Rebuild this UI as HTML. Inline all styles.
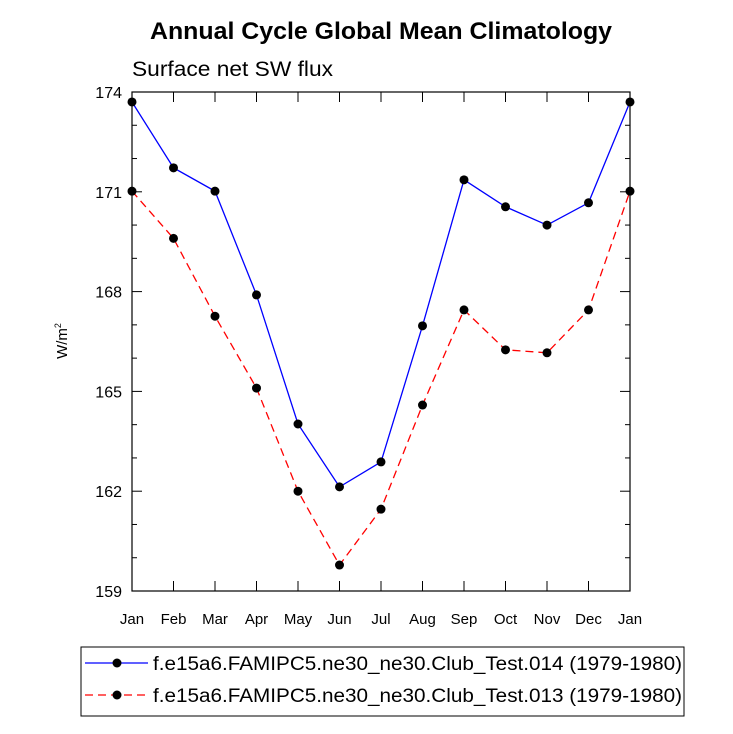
<!DOCTYPE html>
<html><head><meta charset="utf-8"><style>body{margin:0;background:#fff}svg{display:block;font-family:"Liberation Sans",sans-serif}</style></head>
<body>
<svg id="c" width="733" height="734">
<text x="381" y="39" text-anchor="middle" font-size="24" font-weight="bold" textLength="462" lengthAdjust="spacingAndGlyphs">Annual Cycle Global Mean Climatology</text>
<text x="132" y="76" font-size="21" textLength="201" lengthAdjust="spacingAndGlyphs">Surface net SW flux</text>
<text transform="translate(67,341) rotate(-90)" text-anchor="middle" font-size="15">W/m<tspan dy="-6" font-size="9">2</tspan></text>
<g id="axes"></g>
<g id="series"></g>
<g>
<rect x="81" y="647" width="603" height="69" fill="none" stroke="#000" stroke-width="1"/>
<line x1="85" y1="663" x2="148" y2="663" stroke="#00f" stroke-width="1.3"/>
<circle cx="117" cy="663" r="4.5" fill="#000"/>
<text x="153" y="670" font-size="19" textLength="529" lengthAdjust="spacingAndGlyphs">f.e15a6.FAMIPC5.ne30_ne30.Club_Test.014 (1979-1980)</text>
<line x1="85" y1="695" x2="148" y2="695" stroke="#f00" stroke-width="1.3" stroke-dasharray="8,5"/>
<circle cx="117" cy="695" r="4.5" fill="#000"/>
<text x="153" y="702" font-size="19" textLength="529" lengthAdjust="spacingAndGlyphs">f.e15a6.FAMIPC5.ne30_ne30.Club_Test.013 (1979-1980)</text>
</g>
</svg>
<script>
const months=["Jan","Feb","Mar","Apr","May","Jun","Jul","Aug","Sep","Oct","Nov","Dec","Jan"];
const series014=[173.7,171.72,171.02,167.9,164.02,162.13,162.88,166.97,171.36,170.55,170.0,170.67,173.7];
const series013=[171.02,169.6,167.26,165.1,162.0,159.78,161.46,164.59,167.45,166.25,166.16,167.45,171.02];
const yTicks=[159,162,165,168,171,174];
const NS="http://www.w3.org/2000/svg";
const L=132,R=630,T=92,B=591,ymin=159,ymax=174;
const xs=i=>L+i*(R-L)/(months.length-1);
const ys=v=>B-(v-ymin)/(ymax-ymin)*(B-T);
function mk(tag,attrs,parent){const e=document.createElementNS(NS,tag);for(const k in attrs)e.setAttribute(k,attrs[k]);parent.appendChild(e);return e;}
const ax=document.getElementById('axes');
const frame=mk('rect',{x:L,y:T,width:R-L,height:B-T,fill:'none',stroke:'#000','stroke-width':1.2},ax);


months.forEach((m,i)=>{const x=xs(i);
mk('line',{x1:x,y1:B,x2:x,y2:B-10,stroke:'#000'},ax);
mk('line',{x1:x,y1:T,x2:x,y2:T+10,stroke:'#000'},ax);
const t=mk('text',{x:x,y:B+33,'text-anchor':'middle','font-size':15},ax);t.textContent=m;

});
for(let v=ymin;v<=ymax;v++){const y=ys(v);const maj=yTicks.includes(v);const len=maj?10:5;
mk('line',{x1:L,y1:y,x2:L+len,y2:y,stroke:'#000'},ax);
mk('line',{x1:R,y1:y,x2:R-len,y2:y,stroke:'#000'},ax);}
yTicks.forEach(v=>{const t=mk('text',{x:L-10,y:ys(v)+6,'text-anchor':'end','font-size':16},ax);t.textContent=v;

});
const sg=document.getElementById('series');
function draw(data,color,dash,name){
const p=mk('polyline',{points:data.map((v,i)=>xs(i)+','+ys(v)).join(' '),fill:'none',stroke:color,'stroke-width':1.3,'stroke-dasharray':dash},sg);


data.forEach((v,i)=>{const c=mk('circle',{cx:xs(i),cy:ys(v),r:4.5,fill:'#000'},sg);

});}
draw(series013,'#f00','8,5','series-013');
draw(series014,'#00f','none','series-014');
</script>
</body></html>
